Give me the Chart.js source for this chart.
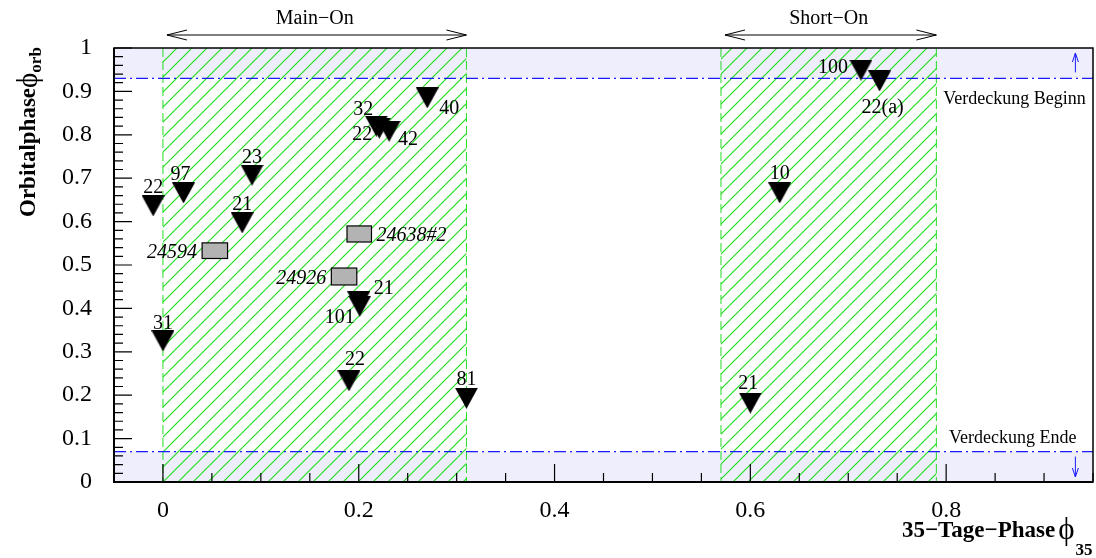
<!DOCTYPE html>
<html>
<head>
<meta charset="utf-8">
<script src="https://cdn.jsdelivr.net/npm/chart.js@4.4.1/dist/chart.umd.min.js"></script>
<style>
  body { margin: 0; background: #fff; overflow: hidden; }
</style>
</head>
<body>
<canvas id="phase-chart" width="1096" height="558"></canvas>
<script>
// Beobachtungen: 35-Tage-Phase, Orbitalphase, Nummer
const phase35  = [-0.01, 0.021, 0.091, 0.081, 0.0, 0.19, 0.31, 0.2, 0.201, 0.218, 0.221, 0.231, 0.27, 0.713, 0.732, 0.63, 0.60];
const orbPhase = [0.636, 0.666, 0.707, 0.597, 0.325, 0.233, 0.193, 0.415, 0.405, 0.82, 0.815, 0.808, 0.885, 0.949, 0.924, 0.666, 0.182];
const obsLabels = ['22', '97', '23', '21', '31', '22', '81', '21', '101', '32', '22', '42', '40', '100', '22(a)', '10', '21'];

// Kästchen (Beobachtungen mit Fehlerbereich)
const boxNames = ['24594', '24638#2', '24926'];
const boxX0 = [0.040, 0.188, 0.172];
const boxX1 = [0.066, 0.213, 0.198];
const boxY0 = [0.515, 0.553, 0.454];
const boxY1 = [0.551, 0.590, 0.493];

// Zustände und Verdeckung
const mainOn = [0, 0.31];
const shortOn = [0.57, 0.79];
const eclipseBegin = 0.93;
const eclipseEnd = 0.07;

// Beschriftungs-Versatz (px) fuer die Nummern
const labelOffsets = [
    [0, -13, 'center'], [-3, -13, 'center'], [0, -12, 'center'], [0, -13, 'center'],
    [0, -12, 'center'], [6, -16, 'center'], [0, -13, 'center'], [25, -8, 'center'],
    [-20, 17, 'center'], [-13, -11, 'center'], [-7, 12, 'right'], [19, 14, 'center'],
    [22, 16, 'center'], [-13, 3, 'right'], [3, 32, 'center'], [0, -14, 'center'], [-2, -14, 'center']
];
const boxLabelSide = ['left', 'right', 'left'];

const SERIF = '"Liberation Serif", "DejaVu Serif", serif';

// Dreieck nach unten
const tri = document.createElement('canvas');
tri.width = 23; tri.height = 21;
(function () {
    const c = tri.getContext('2d');
    c.fillStyle = '#000';
    c.beginPath();
    c.moveTo(0, 0); c.lineTo(23, 0); c.lineTo(11.5, 21);
    c.closePath(); c.fill();
})();

// Schraffur
const tile = document.createElement('canvas');
tile.width = 15; tile.height = 15;
(function () {
    const c = tile.getContext('2d');
    c.strokeStyle = '#22dd22';
    c.lineWidth = 1.2;
    c.beginPath();
    c.moveTo(0, 15); c.lineTo(15, 0);
    c.moveTo(-2, 2); c.lineTo(2, -2);
    c.moveTo(13, 17); c.lineTo(17, 13);
    c.stroke();
})();

function arrowH(ctx, x1, x2, y) {
    ctx.beginPath();
    ctx.moveTo(x1, y); ctx.lineTo(x2, y);
    ctx.moveTo(x1 + 20, y - 5); ctx.lineTo(x1, y); ctx.lineTo(x1 + 20, y + 5);
    ctx.moveTo(x2 - 20, y - 5); ctx.lineTo(x2, y); ctx.lineTo(x2 - 20, y + 5);
    ctx.stroke();
}

function arrowV(ctx, x, y1, y2) {
    const d = y2 < y1 ? 1 : -1;
    ctx.beginPath();
    ctx.moveTo(x, y1); ctx.lineTo(x, y2);
    ctx.moveTo(x - 3, y2 + d * 9); ctx.lineTo(x, y2); ctx.lineTo(x + 3, y2 + d * 9);
    ctx.stroke();
}

const phasePlugin = {
    id: 'phasePlugin',
    beforeDatasetsDraw(chart) {
        const { ctx, chartArea: a, scales: { x, y } } = chart;
        ctx.save();
        // Verdeckungsbereiche
        ctx.fillStyle = 'rgb(238,238,252)';
        const yb = y.getPixelForValue(eclipseBegin), ye = y.getPixelForValue(eclipseEnd);
        ctx.fillRect(a.left, a.top, a.width, yb - a.top);
        ctx.fillRect(a.left, ye, a.width, a.bottom - ye);
        // Main-On / Short-On
        const pat = ctx.createPattern(tile, 'repeat');
        [mainOn, shortOn].forEach(r => {
            const l = x.getPixelForValue(r[0]), rr = x.getPixelForValue(r[1]);
            ctx.fillStyle = pat;
            ctx.fillRect(l, a.top, rr - l, a.height);
            ctx.strokeStyle = '#22dd22';
            ctx.lineWidth = 1;
            ctx.setLineDash([9, 4]);
            ctx.beginPath();
            ctx.moveTo(l, a.top); ctx.lineTo(l, a.bottom);
            ctx.moveTo(rr, a.top); ctx.lineTo(rr, a.bottom);
            ctx.stroke();
        });
        // Verdeckung Linien
        ctx.strokeStyle = '#1a1aff';
        ctx.lineWidth = 1.2;
        ctx.setLineDash([12, 4, 2, 4]);
        ctx.beginPath();
        ctx.moveTo(a.left, yb); ctx.lineTo(a.right, yb);
        ctx.moveTo(a.left, ye); ctx.lineTo(a.right, ye);
        ctx.stroke();
        ctx.setLineDash([]);
        // Kaestchen
        ctx.font = 'italic 20px ' + SERIF;
        ctx.textBaseline = 'alphabetic';
        boxNames.forEach((name, i) => {
            const l = x.getPixelForValue(boxX0[i]), r = x.getPixelForValue(boxX1[i]);
            const t = y.getPixelForValue(boxY1[i]), b = y.getPixelForValue(boxY0[i]);
            ctx.fillStyle = '#b3b3b3';
            ctx.fillRect(l, t, r - l, b - t);
            ctx.strokeStyle = '#000';
            ctx.lineWidth = 1.2;
            ctx.strokeRect(l, t, r - l, b - t);
            ctx.fillStyle = '#000';
            const yc = (t + b) / 2 + 7;
            if (boxLabelSide[i] === 'left') {
                ctx.textAlign = 'right';
                ctx.fillText(name, l - 5, yc);
            } else {
                ctx.textAlign = 'left';
                ctx.fillText(name, r + 5, yc);
            }
        });
        ctx.restore();
    },
    afterDatasetsDraw(chart) {
        const { ctx, chartArea: a, scales: { x, y } } = chart;
        ctx.save();
        ctx.fillStyle = '#000';
        // Nummern an den Dreiecken
        ctx.font = '20px ' + SERIF;
        ctx.textBaseline = 'alphabetic';
        obsLabels.forEach((lab, i) => {
            const px = x.getPixelForValue(phase35[i]), py = y.getPixelForValue(orbPhase[i]);
            const o = labelOffsets[i];
            ctx.textAlign = o[2];
            ctx.fillText(lab, px + o[0], py + o[1]);
        });
        // Rahmen
        ctx.strokeStyle = '#000';
        ctx.lineWidth = 1.5;
        ctx.strokeRect(a.left, a.top, a.width, a.height);
        ctx.lineWidth = 2;
        ctx.beginPath();
        ctx.moveTo(a.left, a.top); ctx.lineTo(a.left, a.bottom); ctx.lineTo(a.right, a.bottom);
        ctx.stroke();
        // Striche
        ctx.lineWidth = 1.2;
        ctx.beginPath();
        y.ticks.forEach(t => {
            const py = y.getPixelForValue(t.value);
            const len = Math.round(t.value * 100) % 10 === 0 ? 18 : 9;
            ctx.moveTo(a.left, py); ctx.lineTo(a.left + len, py);
        });
        x.ticks.forEach(t => {
            const px = x.getPixelForValue(t.value);
            const len = Math.round(t.value * 100) % 20 === 0 ? 18 : 9;
            ctx.moveTo(px, a.bottom); ctx.lineTo(px, a.bottom - len);
        });
        ctx.stroke();
        // Main-On / Short-On Pfeile
        ctx.lineWidth = 1;
        ctx.font = '20px ' + SERIF;
        ctx.textAlign = 'center';
        [[mainOn, 'Main\u2212On'], [shortOn, 'Short\u2212On']].forEach(([r, txt]) => {
            const l = x.getPixelForValue(r[0]), rr = x.getPixelForValue(r[1]);
            arrowH(ctx, l + 4, rr, 35);
            ctx.fillText(txt, (l + rr) / 2, 24);
        });
        // Verdeckung
        ctx.font = '18px ' + SERIF;
        ctx.textAlign = 'left';
        ctx.fillText('Verdeckung Beginn', x.getPixelForValue(0.797), y.getPixelForValue(0.871));
        ctx.fillText('Verdeckung Ende', x.getPixelForValue(0.803), y.getPixelForValue(0.09));
        ctx.strokeStyle = '#1a1aff';
        const ax = x.getPixelForValue(0.932);
        arrowV(ctx, ax, y.getPixelForValue(eclipseBegin) - 6, a.top + 5);
        arrowV(ctx, ax, y.getPixelForValue(eclipseEnd) + 5, a.bottom - 5);
        // Achsentitel x
        ctx.fillStyle = '#000';
        ctx.textAlign = 'left';
        ctx.font = 'bold 23px ' + SERIF;
        let tx = 902;
        ctx.fillText('35\u2212Tage\u2212Phase', tx, 537);
        tx += ctx.measureText('35\u2212Tage\u2212Phase').width + 3;
        ctx.font = '31px ' + SERIF;
        ctx.fillText('\u03D5', tx, 539);
        tx += ctx.measureText('\u03D5').width + 1;
        ctx.font = 'bold 17px ' + SERIF;
        ctx.fillText('35', tx, 555);
        // Achsentitel y
        ctx.translate(35, 217);
        ctx.rotate(-Math.PI / 2);
        ctx.font = 'bold 23px ' + SERIF;
        ctx.fillText('Orbitalphase', 0, 0);
        let ty = ctx.measureText('Orbitalphase').width;
        ctx.font = '29px ' + SERIF;
        ctx.fillText('\u03D5', ty, 2);
        ty += ctx.measureText('\u03D5').width;
        ctx.font = 'bold 17px ' + SERIF;
        ctx.fillText('orb', ty, 6);
        ctx.restore();
    }
};

const tickFont = { family: SERIF, size: 24 };

new Chart(document.getElementById('phase-chart'), {
    type: 'scatter',
    data: {
        datasets: [{
            label: 'Beobachtungen',
            data: phase35.map((v, i) => ({ x: v, y: orbPhase[i] })),
            pointStyle: tri,
            pointRadius: 12,
            pointHoverRadius: 12
        }]
    },
    options: {
        responsive: false,
        animation: false,
        layout: { autoPadding: false, padding: { top: 48, right: 3, left: 0, bottom: 0 } },
        plugins: {
            legend: { display: false },
            tooltip: { enabled: false }
        },
        scales: {
            x: {
                type: 'linear',
                min: -0.05,
                max: 0.95,
                grid: { display: true, drawOnChartArea: false, drawTicks: true, tickLength: 14, color: 'rgba(0,0,0,0)' },
                border: { display: false },
                ticks: {
                    stepSize: 0.05,
                    autoSkip: false,
                    maxRotation: 0,
                    padding: 0,
                    color: '#000',
                    font: tickFont,
                    callback: v => Math.round(v * 100) % 20 === 0 ? String(+v.toFixed(1)) : ''
                },
                afterFit(s) { s.height = 76; }
            },
            y: {
                type: 'linear',
                min: 0,
                max: 1,
                grid: { display: false, drawTicks: false },
                border: { display: false },
                ticks: {
                    stepSize: 0.02,
                    autoSkip: false,
                    padding: 22,
                    color: '#000',
                    font: tickFont,
                    callback: v => Math.round(v * 100) % 10 === 0 ? String(+v.toFixed(1)) : ''
                },
                afterFit(s) { s.width = 114; }
            }
        }
    },
    plugins: [phasePlugin]
});
</script>
</body>
</html>
